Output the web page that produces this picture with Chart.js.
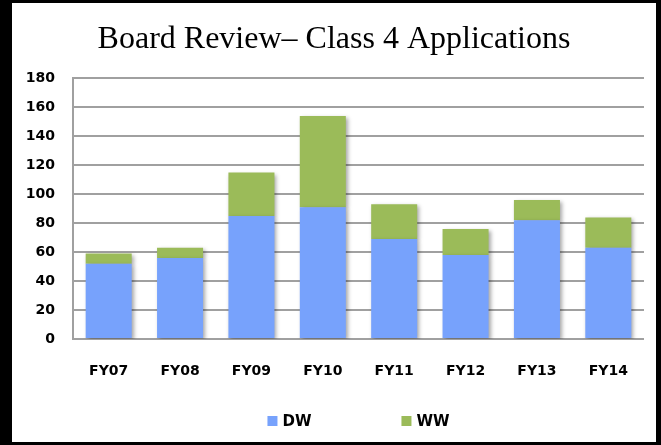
<!DOCTYPE html>
<html>
<head>
<meta charset="utf-8">
<script src="https://cdn.jsdelivr.net/npm/chart.js@4/dist/chart.umd.min.js"></script>
<style>
    body { margin: 0; background: #000; }
    .frame { position: absolute; left: 12px; top: 3px; width: 644px; height: 439px; background: #fff; }
</style>
</head>
<body>
<div class="frame"><canvas id="chart" width="644" height="439"></canvas></div>
<script>
// Chart data
const years = ['FY07', 'FY08', 'FY09', 'FY10', 'FY11', 'FY12', 'FY13', 'FY14'];
const dwValues = [52, 56, 85, 91, 69, 58, 82, 63];
const wwValues = [7, 7, 30, 63, 24, 18, 14, 21];
const yTicks = [0, 20, 40, 60, 80, 100, 120, 140, 160, 180];

const tickFont = { family: "'DejaVu Sans', sans-serif", size: 14, weight: 'bold' };

// Soft shadow behind the bars
const barShadow = {
    id: 'barShadow',
    beforeDatasetsDraw (chart) {
        const ctx = chart.ctx;
        ctx.save();
        ctx.shadowColor = 'rgba(0, 0, 0, 0.35)';
        ctx.shadowBlur = 4;
        ctx.shadowOffsetX = 2;
        ctx.shadowOffsetY = 2;
    },
    afterDatasetsDraw (chart) {
        chart.ctx.restore();
    }
};

// Legend under the plot, wide gap between the two entries
const wideLegend = {
    id: 'wideLegend',
    afterDraw (chart) {
        const ctx = chart.ctx;
        const area = chart.chartArea;
        const box = 10, gap = 5, spacing = 90;
        ctx.save();
        ctx.font = "bold 15px 'DejaVu Sans', sans-serif";
        ctx.textBaseline = 'middle';
        const items = chart.data.datasets.map((ds) => ({
            text: ds.label,
            color: ds.backgroundColor,
            width: box + gap + ctx.measureText(ds.label).width
        }));
        const total = items.reduce((sum, it) => sum + it.width, 0) + spacing * (items.length - 1);
        let x = (area.left + area.right) / 2 - total / 2;
        const y = area.bottom + 82;
        items.forEach((it) => {
            ctx.fillStyle = it.color;
            ctx.fillRect(x, y - box / 2, box, box);
            ctx.fillStyle = '#000';
            ctx.fillText(it.text, x + box + gap, y + 1);
            x += it.width + spacing;
        });
        ctx.restore();
    }
};

new Chart(document.getElementById('chart'), {
    type: 'bar',
    data: {
        labels: years,
        datasets: [
            { label: 'DW', data: dwValues, backgroundColor: '#77a2fc' },
            { label: 'WW', data: wwValues, backgroundColor: '#9bbb59' }
        ]
    },
    options: {
        responsive: false,
        animation: false,
        layout: { padding: { left: 12, right: 12, top: 0, bottom: 39 } },
        datasets: { bar: { categoryPercentage: 1, barPercentage: 0.645 } },
        plugins: {
            title: {
                display: true,
                text: 'Board Review\u2013 Class 4 Applications',
                color: '#000',
                font: { family: "'Liberation Serif', 'Times New Roman', serif", size: 32, weight: 'normal' },
                padding: { top: 17, bottom: 20 }
            },
            legend: { display: false },
            tooltip: { enabled: false }
        },
        scales: {
            x: {
                stacked: true,
                grid: { display: false },
                border: { display: false },
                ticks: { color: '#000', font: tickFont, padding: 16 },
                afterFit: (scale) => { scale.height = 64; }
            },
            y: {
                stacked: true,
                min: 0,
                max: 180,
                afterBuildTicks: (scale) => { scale.ticks = yTicks.map((v) => ({ value: v })); },
                grid: { color: '#a0a0a0', lineWidth: 2, drawTicks: false },
                border: { color: '#a0a0a0', width: 2 },
                ticks: { color: '#000', font: tickFont, padding: 18 },
                afterFit: (scale) => { scale.width = 49; }
            }
        }
    },
    plugins: [barShadow, wideLegend]
});
</script>
</body>
</html>
